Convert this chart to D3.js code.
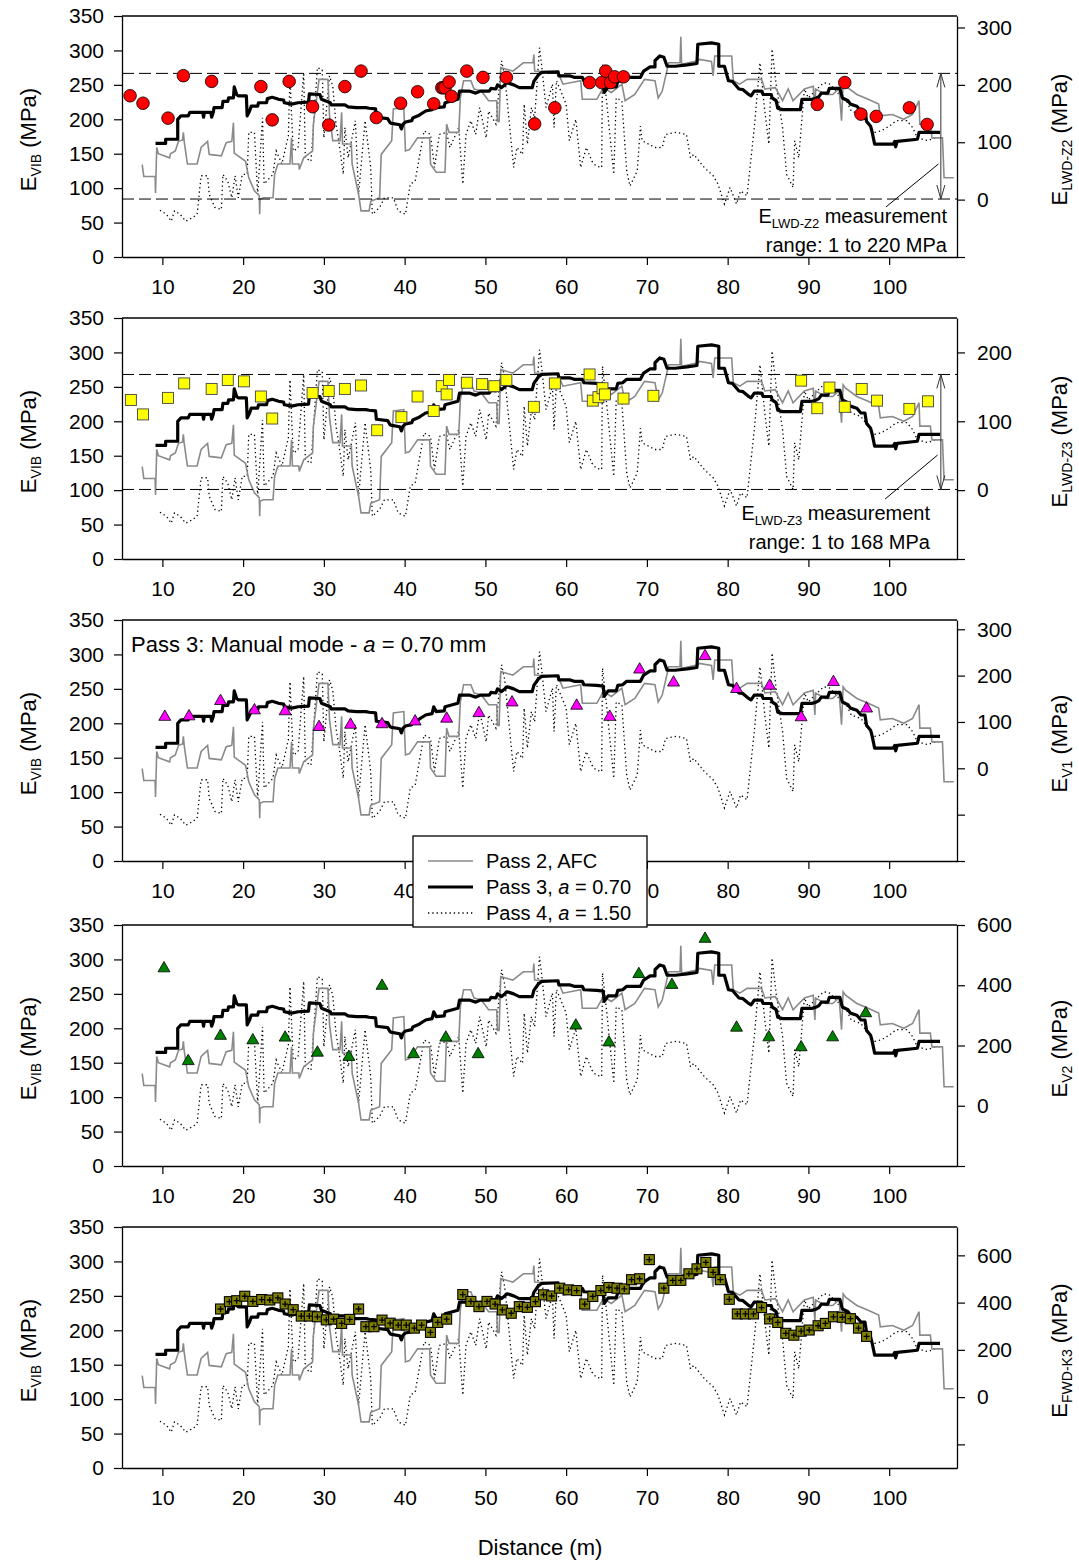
<!DOCTYPE html>
<html>
<head>
<meta charset="utf-8">
<script src="https://cdn.jsdelivr.net/npm/d3@7"></script>
<style>
  body { margin: 0; background: #fff; }
  svg text { font-family: "Liberation Sans", Arial, sans-serif; fill: #000; }
</style>
</head>
<body>
<svg id="chart" width="1079" height="1562"></svg>
<script>
// ---- data -------------------------------------------------------------
const distanceDomain = [5, 108.4];
const distanceTicks = [10, 20, 30, 40, 50, 60, 70, 80, 90, 100];
const evibTicks = [0, 50, 100, 150, 200, 250, 300, 350];

// Roller-integrated E_VIB (MPa) versus distance (m): [distance, E_VIB]
const pass2 = [[7.5,134],[7.7,117],[9.1,117],[9.15,93],[9.3,159],[9.5,150],[10.9,144],[11.0,150],[11.6,154],[12.0,168],[12.5,170],[12.6,181],[12.7,168],[13.1,135],[14.3,135],[14.8,159],[15.6,168],[15.8,149],[17.3,147],[17.9,166],[18.6,168],[18.8,195],[18.9,151],[20.3,139],[20.7,115],[21.4,96],[22.0,89],[22.05,62],[22.1,84],[22.5,86],[23.7,86],[23.9,120],[24.3,135],[25.8,135],[26.0,173],[26.1,135],[26.9,135],[26.95,127],[27.5,144],[28.6,154],[28.7,193],[29.4,258],[30.5,258],[30.7,205],[31.1,169],[32.0,169],[32.2,210],[32.3,164],[33.4,164],[33.5,135],[34.3,91],[34.6,67],[35.6,67],[35.8,81],[36.9,86],[37.1,149],[38.4,169],[38.6,215],[39.9,217],[40.1,154],[40.6,156],[41.6,173],[43.1,173],[43.2,135],[43.9,123],[45.0,123],[45.2,193],[45.5,181],[46.7,181],[46.9,231],[47.3,256],[48.2,256],[48.6,244],[49.5,241],[50.4,227],[51.4,227],[51.5,197],[51.7,197],[51.9,275],[53.4,270],[54.7,282],[55.9,282],[56.0,294],[56.1,270],[59.0,268],[59.6,251],[61.8,256],[62.0,229],[63.8,229],[64.6,246],[65.6,239],[66.9,251],[67.3,227],[68.5,236],[69.7,258],[71.0,256],[71.4,231],[71.9,241],[72.7,282],[74.1,282],[74.2,320],[74.3,280],[76.3,285],[76.5,287],[78.0,284],[78.2,263],[78.4,292],[80.5,292],[80.7,256],[81.5,251],[82.4,258],[84.2,258],[84.6,244],[85.9,246],[86.8,227],[87.5,244],[88.1,227],[89.5,244],[90.6,248],[90.8,212],[90.9,244],[92.1,236],[93.0,236],[93.8,244],[94.1,198],[94.3,253],[94.6,248],[96.0,236],[97.4,229],[98.7,222],[98.9,205],[100.4,207],[101.8,200],[102.9,207],[103.7,227],[103.8,193],[105.1,193],[105.3,173],[106.6,173],[106.8,115],[108.0,115]];

const pass3 = [[9.15,165],[10.4,165],[10.4,171],[11.9,171],[11.9,200],[12.3,205],[13.2,205],[13.4,210],[15.0,210],[15.1,203],[15.2,210],[16.0,210],[16.1,203],[16.3,210],[16.4,217],[17.4,217],[17.5,226],[18.1,226],[18.2,231],[18.8,231],[18.9,247],[19.2,236],[19.4,234],[20.4,234],[20.5,205],[20.8,212],[21.0,219],[21.8,219],[21.9,224],[22.9,224],[23.0,230],[23.6,232],[24.4,229],[25.0,228],[25.1,224],[26.0,222],[26.8,224],[28.1,225],[28.2,237],[29.5,236],[29.7,229],[30.8,224],[30.9,221],[32.6,221],[33.0,218],[34.0,217],[35.2,217],[35.6,216],[36.4,215],[36.5,203],[37.9,201],[38.2,195],[38.4,194],[39.4,192],[39.6,186],[39.8,193],[40.1,196],[40.9,198],[41.0,202],[41.8,206],[42.6,212],[43.4,214],[43.6,224],[43.9,217],[44.9,218],[45.0,224],[46.6,229],[46.8,241],[48.0,241],[48.8,238],[49.4,241],[50.5,241],[50.7,245],[51.3,244],[51.5,250],[52.0,246],[52.7,253],[53.5,250],[54.2,246],[55.8,246],[56.0,255],[56.6,265],[57.0,268],[59.0,269],[59.1,263],[60.5,263],[61.0,261],[62.0,261],[62.2,256],[63.8,255],[64.6,254],[64.7,239],[65.2,247],[66.2,247],[66.4,255],[67.0,256],[67.5,261],[69.2,261],[69.6,270],[70.4,276],[71.0,276],[71.0,285],[71.6,292],[72.1,290],[72.5,277],[73.5,277],[75.0,279],[76.2,281],[76.3,309],[78.0,311],[78.9,309],[78.9,277],[79.6,277],[80.1,256],[80.6,255],[81.4,244],[81.9,243],[82.5,237],[82.9,234],[83.3,241],[84.2,241],[84.4,236],[85.4,236],[85.5,231],[86.0,227],[86.2,216],[86.8,214],[89.0,214],[89.2,229],[90.5,229],[91.0,231],[91.3,233],[91.6,238],[92.4,238],[92.6,245],[93.9,245],[94.2,231],[94.9,227],[95.2,222],[96.0,219],[96.5,212],[97.0,212],[97.2,197],[97.7,190],[97.9,181],[98.2,164],[100.5,164],[100.7,168],[100.8,160],[101.0,168],[103.5,171],[103.7,181],[106.3,181]];

const pass4 = [[9.7,68],[10.5,62],[11.1,52],[11.5,67],[12.2,62],[12.9,52],[13.7,57],[14.3,62],[14.8,118],[15.6,118],[15.8,91],[16.5,72],[17.3,69],[17.5,120],[18.1,110],[18.6,86],[19.0,118],[19.4,86],[19.9,120],[20.5,120],[20.7,181],[21.4,181],[21.8,91],[22.4,202],[22.6,106],[23.7,120],[24.1,154],[24.8,135],[25.6,176],[25.8,260],[26.2,154],[26.8,158],[27.5,268],[27.7,144],[28.4,139],[29.2,275],[29.8,272],[30.0,173],[30.7,263],[31.1,248],[31.5,193],[31.9,164],[32.4,120],[32.6,188],[33.0,144],[33.9,198],[34.3,91],[35.1,198],[35.8,130],[36.0,62],[36.9,72],[37.5,86],[38.6,86],[39.2,67],[40.1,62],[40.7,106],[41.3,110],[42.4,183],[43.2,178],[43.7,130],[44.3,178],[45.2,181],[45.6,159],[46.7,188],[47.2,106],[47.6,178],[48.2,198],[48.8,178],[49.3,217],[50.1,173],[50.4,212],[51.3,193],[52.0,285],[52.4,263],[53.5,130],[53.9,159],[54.6,149],[54.8,222],[55.2,164],[55.7,217],[56.1,202],[56.7,304],[57.0,275],[57.5,217],[58.3,251],[58.5,188],[58.8,256],[60.0,222],[60.4,169],[61.2,200],[61.8,130],[62.5,159],[63.2,139],[63.7,132],[64.4,130],[64.5,280],[65.0,227],[65.9,120],[66.2,231],[66.9,227],[67.5,125],[67.9,103],[68.8,125],[69.2,190],[69.4,169],[71.0,159],[71.9,159],[72.3,178],[73.6,181],[74.9,178],[75.4,144],[75.8,149],[77.1,130],[78.2,118],[78.8,106],[79.6,77],[80.3,101],[81.1,77],[81.6,96],[82.4,89],[83.3,188],[84.0,282],[84.6,212],[85.1,164],[85.5,302],[86.0,251],[86.8,188],[87.3,120],[88.1,101],[88.3,169],[88.8,144],[89.5,244],[90.0,231],[90.8,241],[91.9,253],[92.7,251],[93.8,236],[94.7,227],[95.3,212],[96.5,207],[97.4,193],[98.2,181],[99.0,183],[100.0,190],[100.9,198],[102.2,198],[102.9,188],[103.5,173],[104.8,169],[105.7,173]];

// Spot tests, in the units of each panel's right axis: [distance, modulus]
const lwdZ2 = [[6.0,181],[7.6,168],[10.7,142],[12.6,216],[16.1,206],[22.2,197],[23.6,139],[25.7,206],[28.6,162],[30.6,130],[32.6,197],[34.6,224],[36.5,143],[39.5,168],[41.6,188],[43.6,167],[44.6,195],[44.8,195],[45.0,195],[45.5,205],[45.8,180],[47.7,224],[49.7,213],[52.6,213],[56.1,132],[58.6,160],[62.9,204],[64.4,204],[64.9,224],[65.5,204],[66.0,214],[67.1,214],[91.1,166],[94.5,204],[96.5,149],[98.4,145],[102.5,160],[104.7,131]];
const lwdZ3 = [[6.1,131],[7.6,110],[10.7,134],[12.7,155],[16.1,147],[18.1,160],[20.1,158],[22.2,136],[23.6,104],[28.6,141],[30.6,144],[32.6,147],[34.6,152],[36.6,87],[39.6,106],[41.6,136],[43.6,115],[44.6,151],[45.2,139],[45.5,160],[47.7,156],[49.6,154],[51.1,151],[52.6,160],[56.0,121],[58.6,155],[62.9,168],[63.3,130],[64.0,135],[64.5,148],[64.8,139],[67.1,133],[70.8,137],[89.1,159],[91.1,119],[92.6,149],[94.5,121],[96.6,147],[98.5,130],[102.5,118],[104.8,129]];
const ev1 = [[10.3,111],[13.3,112],[17.2,145],[21.4,125],[25.2,123],[29.4,89],[33.3,94],[37.2,95],[41.3,101],[45.2,107],[49.2,119],[53.3,142],[61.3,135],[65.4,111],[69.1,213],[73.3,185],[77.2,242],[81.1,171],[85.2,178],[89.1,110],[93.1,186],[97.2,129]];
const ev2 = [[10.2,456],[13.2,148],[17.2,232],[21.2,217],[25.2,226],[29.2,176],[33.1,162],[37.2,398],[41.1,171],[45.1,226],[49.1,171],[61.2,266],[65.3,210],[69.0,437],[73.1,401],[77.2,554],[81.1,259],[85.1,227],[89.1,194],[93.0,227],[97.1,307]];
const fwdK3 = [[17.2,373],[18.3,404],[19.2,408],[20.2,427],[21.2,405],[22.3,413],[23.3,411],[24.3,420],[25.2,394],[26.2,370],[27.2,343],[28.2,343],[29.2,340],[30.3,327],[31.2,330],[32.2,312],[33.2,329],[34.3,373],[35.2,298],[36.2,298],[37.2,326],[38.2,313],[39.2,305],[40.2,305],[41.2,292],[42.1,305],[43.2,274],[44.1,316],[45.2,330],[47.2,434],[48.2,405],[49.2,383],[50.2,405],[51.2,394],[52.1,369],[53.2,355],[54.2,383],[55.2,380],[56.2,404],[57.2,433],[58.2,428],[59.2,461],[60.3,454],[61.3,451],[62.3,394],[63.3,426],[64.3,451],[65.3,464],[66.3,461],[67.2,458],[68.1,497],[69.1,501],[70.3,582],[72.1,461],[73.2,494],[74.2,494],[75.2,522],[76.2,543],[77.3,570],[78.2,528],[79.1,497],[80.2,414],[81.2,352],[82.2,352],[83.2,352],[84.2,379],[85.2,331],[86.2,316],[87.2,270],[88.2,262],[89.1,279],[90.1,284],[91.2,302],[92.1,312],[93.1,340],[94.2,338],[95.2,332],[96.2,292],[97.2,257]];

const rangeZ2 = [1, 220];
const rangeZ3 = [1, 168];

// ---- layout -----------------------------------------------------------
const svg = d3.select("#chart");
const plotLeft = 122, plotRight = 957, plotH = 241;
const tickFont = 21, titleFont = 22, subFont = 14;
const x = d3.scaleLinear().domain(distanceDomain).range([plotLeft, plotRight]);

const panels = [
  { top: 16,   rDomain: [-100, 320], rTicks: [-100, 0, 100, 200, 300], rLabels: [0, 100, 200, 300],
    sub: "LWD-Z2", data: lwdZ2, mark: "circle", fill: "#ff0000", range: rangeZ2,
    note: { textRight: 947, base1: 207, base2: 236, lead: [[106.1, 148], [99.6, 191]] } },
  { top: 318,  rDomain: [-100, 250], rTicks: [-100, 0, 100, 200], rLabels: [0, 100, 200],
    sub: "LWD-Z3", data: lwdZ3, mark: "square", fill: "#ffff00", range: rangeZ3,
    note: { textRight: 930, base1: 202, base2: 231, lead: [[106.0, 137], [99.5, 181]] } },
  { top: 620,  rDomain: [-200, 320], rTicks: [-200, -100, 0, 100, 200, 300], rLabels: [0, 100, 200, 300],
    sub: "V1", data: ev1, mark: "triangle", fill: "#ff00ff" },
  { top: 925,  rDomain: [-200, 600], rTicks: [-200, 0, 200, 400, 600], rLabels: [0, 200, 400, 600],
    sub: "V2", data: ev2, mark: "triangle", fill: "#008000" },
  { top: 1227, rDomain: [-300, 720], rTicks: [-200, 0, 200, 400, 600], rLabels: [0, 200, 400, 600],
    sub: "FWD-K3", data: fwdK3, mark: "plusSquare", fill: "#808000" }
];

function subscriptText(sel, main, sub, rest, size, subSize) {
  sel.append("tspan").text(main);
  sel.append("tspan").attr("font-size", subSize).attr("dy", 5).text(sub);
  sel.append("tspan").attr("dy", -5).text(rest);
  return sel;
}

function styleAxis(g) {
  g.select(".domain").attr("stroke", "#000").attr("stroke-width", 1.3);
  g.selectAll(".tick line").attr("stroke", "#000").attr("stroke-width", 1.2);
  g.selectAll(".tick text").attr("font-size", tickFont).attr("fill", "#000");
}

panels.forEach((p, i) => {
  const top = p.top, bottom = p.top + plotH;
  const yL = d3.scaleLinear().domain([0, 350]).range([bottom, top]);
  const yR = d3.scaleLinear().domain(p.rDomain).range([bottom, top]);
  const g = svg.append("g");

  const clipId = "clip" + i;
  svg.append("clipPath").attr("id", clipId).append("rect")
    .attr("x", plotLeft).attr("y", top).attr("width", plotRight - plotLeft).attr("height", plotH);

  const line = d3.line().x(d => x(d[0])).y(d => yL(d[1]));
  const lines = g.append("g").attr("clip-path", `url(#${clipId})`);
  lines.append("path").datum(pass4).attr("d", line)
    .attr("fill", "none").attr("stroke", "#000").attr("stroke-width", 1.3)
    .attr("stroke-dasharray", "1.3 3");
  lines.append("path").datum(pass2).attr("d", line)
    .attr("fill", "none").attr("stroke", "#8a8a8a").attr("stroke-width", 1.6);
  lines.append("path").datum(pass3).attr("d", line)
    .attr("fill", "none").attr("stroke", "#000").attr("stroke-width", 3.2)
    .attr("stroke-linejoin", "round");

  // measurement range of the light weight deflectometer
  if (p.range) {
    p.range.forEach(v => {
      g.append("line").attr("x1", plotLeft).attr("x2", plotRight)
        .attr("y1", yR(v)).attr("y2", yR(v))
        .attr("stroke", "#000").attr("stroke-width", 1).attr("stroke-dasharray", "12 5");
    });
    const ax = x(106.4), yTop = yR(p.range[1]), yBot = yR(p.range[0]);
    const arrow = g.append("g").attr("stroke", "#333").attr("stroke-width", 1).attr("fill", "none");
    arrow.append("line").attr("x1", ax).attr("x2", ax).attr("y1", yTop).attr("y2", yBot);
    arrow.append("path").attr("d", `M${ax - 4},${yTop + 14}L${ax},${yTop}L${ax + 4},${yTop + 14}`);
    arrow.append("path").attr("d", `M${ax - 4},${yBot - 14}L${ax},${yBot}L${ax + 4},${yBot - 14}`);
    const n = p.note;
    g.append("line")
      .attr("x1", x(n.lead[0][0])).attr("y1", top + n.lead[0][1])
      .attr("x2", x(n.lead[1][0])).attr("y2", top + n.lead[1][1])
      .attr("stroke", "#000").attr("stroke-width", 1);
    subscriptText(g.append("text").attr("x", n.textRight).attr("y", top + n.base1)
      .attr("text-anchor", "end").attr("font-size", 20), "E", p.sub, " measurement", 20, 13);
    g.append("text").attr("x", n.textRight).attr("y", top + n.base2)
      .attr("text-anchor", "end").attr("font-size", 20)
      .text(`range: ${p.range[0]} to ${p.range[1]} MPa`);
  }

  // spot test markers
  const mk = g.append("g");
  p.data.forEach(d => {
    const cx = x(d[0]), cy = yR(d[1]);
    if (p.mark === "circle") {
      mk.append("circle").attr("cx", cx).attr("cy", cy).attr("r", 6.3)
        .attr("fill", p.fill).attr("stroke", "#000").attr("stroke-width", 0.8);
    } else if (p.mark === "square") {
      mk.append("rect").attr("x", cx - 5.5).attr("y", cy - 5.5).attr("width", 11).attr("height", 11)
        .attr("fill", p.fill).attr("stroke", "#444").attr("stroke-width", 0.9);
    } else if (p.mark === "triangle") {
      mk.append("path").attr("d", d3.symbol(d3.symbolTriangle, 62)())
        .attr("transform", `translate(${cx},${cy})`)
        .attr("fill", p.fill).attr("stroke", "#000").attr("stroke-width", 0.8);
    } else {
      mk.append("rect").attr("x", cx - 5).attr("y", cy - 5).attr("width", 10).attr("height", 10)
        .attr("fill", p.fill).attr("stroke", "#000").attr("stroke-width", 1.1);
      mk.append("path").attr("d", `M${cx - 3},${cy}H${cx + 3}M${cx},${cy - 3}V${cy + 3}`)
        .attr("stroke", "#000").attr("stroke-width", 1.3);
    }
  });

  // frame and axes
  g.append("line").attr("x1", plotLeft).attr("x2", plotRight).attr("y1", top).attr("y2", top)
    .attr("stroke", "#000").attr("stroke-width", 1.3);
  g.append("g").attr("transform", `translate(${plotLeft},0)`)
    .call(d3.axisLeft(yL).tickValues(evibTicks).tickSize(8).tickPadding(10).tickSizeOuter(0))
    .call(styleAxis);
  g.append("g").attr("transform", `translate(0,${bottom})`)
    .call(d3.axisBottom(x).tickValues(distanceTicks).tickSize(8).tickPadding(14).tickSizeOuter(0))
    .call(styleAxis);
  g.append("g").attr("transform", `translate(${plotRight},0)`)
    .call(d3.axisRight(yR).tickValues(p.rTicks).tickSize(8).tickPadding(12).tickSizeOuter(0)
      .tickFormat(v => p.rLabels.includes(v) ? v : ""))
    .call(styleAxis);

  // axis titles
  const midY = top + plotH / 2 + 3;
  subscriptText(g.append("text").attr("transform", `translate(36,${midY}) rotate(-90)`)
    .attr("text-anchor", "middle").attr("font-size", titleFont), "E", "VIB", " (MPa)", titleFont, subFont);
  subscriptText(g.append("text").attr("transform", `translate(1067,${midY}) rotate(-90)`)
    .attr("text-anchor", "middle").attr("font-size", titleFont), "E", p.sub, " (MPa)", titleFont, subFont);

  if (i === 2) {
    const t = g.append("text").attr("x", 131).attr("y", top + 32).attr("font-size", 22);
    t.append("tspan").text("Pass 3: Manual mode - ");
    t.append("tspan").attr("font-style", "italic").text("a");
    t.append("tspan").text(" = 0.70 mm");
  }
});

svg.append("text").attr("x", 540).attr("y", 1555).attr("text-anchor", "middle")
  .attr("font-size", titleFont).text("Distance (m)");

// legend
const lg = svg.append("g").attr("transform", "translate(413,836)");
lg.append("rect").attr("width", 234).attr("height", 91)
  .attr("fill", "#fff").attr("stroke", "#000").attr("stroke-width", 1.3);
const legendItems = [
  { label: ["Pass 2, AFC"], stroke: "#8a8a8a", w: 1.6, dash: null },
  { label: ["Pass 3, ", "a", " = 0.70"], stroke: "#000", w: 3.2, dash: null },
  { label: ["Pass 4, ", "a", " = 1.50"], stroke: "#000", w: 1.3, dash: "1.3 3" }
];
legendItems.forEach((it, k) => {
  const yy = 25 + k * 26;
  lg.append("line").attr("x1", 15).attr("x2", 60).attr("y1", yy).attr("y2", yy)
    .attr("stroke", it.stroke).attr("stroke-width", it.w).attr("stroke-dasharray", it.dash);
  const t = lg.append("text").attr("x", 73).attr("y", yy + 7).attr("font-size", 20);
  it.label.forEach((s, j) => {
    t.append("tspan").attr("font-style", j === 1 ? "italic" : null).text(s);
  });
});
</script>
</body>
</html>
